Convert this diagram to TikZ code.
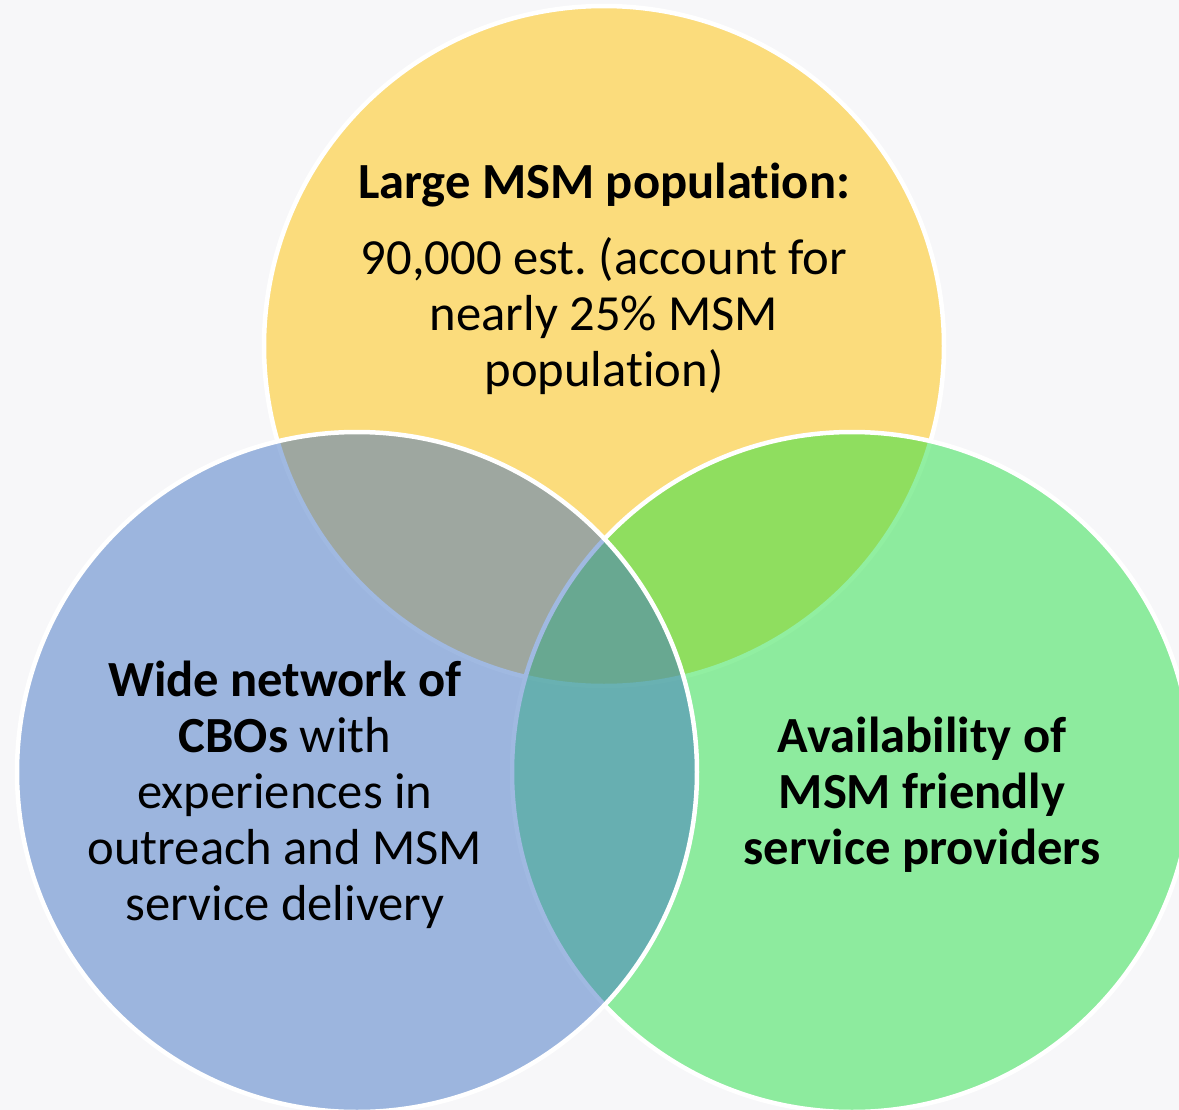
\documentclass[tikz,border=0pt]{standalone}
\usepackage{fontspec}
\setmainfont[Ligatures=NoCommon]{Carlito}
\frenchspacing
\definecolor{bggray}{RGB}{247,247,249}
\definecolor{msmyellow}{RGB}{251,220,124}
\definecolor{cbogreen}{RGB}{37,224,68}
\definecolor{cboblue}{RGB}{66,116,196}
\tikzset{
  ring/.style={draw=white, line width=0.45mm},
  vtext/.style={align=center, font=\fontsize{14.4}{15.9}\selectfont}
}

\begin{document}
\begin{tikzpicture}[x=0.1mm,y=-0.1mm]
\fill [bggray] (0,0) rectangle (1179,1110);
\useasboundingbox (0,0) rectangle (1179,1110);
% circles: yellow, then green, then blue on top
\filldraw [ring, fill=msmyellow] (604,346) circle [radius=34mm];
\filldraw [ring, fill=cbogreen, fill opacity=0.5] (852,772) circle [radius=34mm];
\filldraw [ring, fill=cboblue, fill opacity=0.5] (357,772) circle [radius=34mm];
% texts
\node [vtext] (msmtitle) at (604,185) {\textbf{Large MSM population:}};
\node [vtext] (msmtext) at (604,316) {90,000 est. (account for\\nearly 25\% MSM\\population)};
\node [vtext] (cbotext) at (285,795) {\textbf{Wide network of}\\\textbf{CBOs} with\\experiences in\\outreach and MSM\\service delivery};
\node [vtext] (provtext) at (922,795) {\textbf{Availability of}\\\textbf{MSM friendly}\\\textbf{service providers}};
\end{tikzpicture}
\end{document}
